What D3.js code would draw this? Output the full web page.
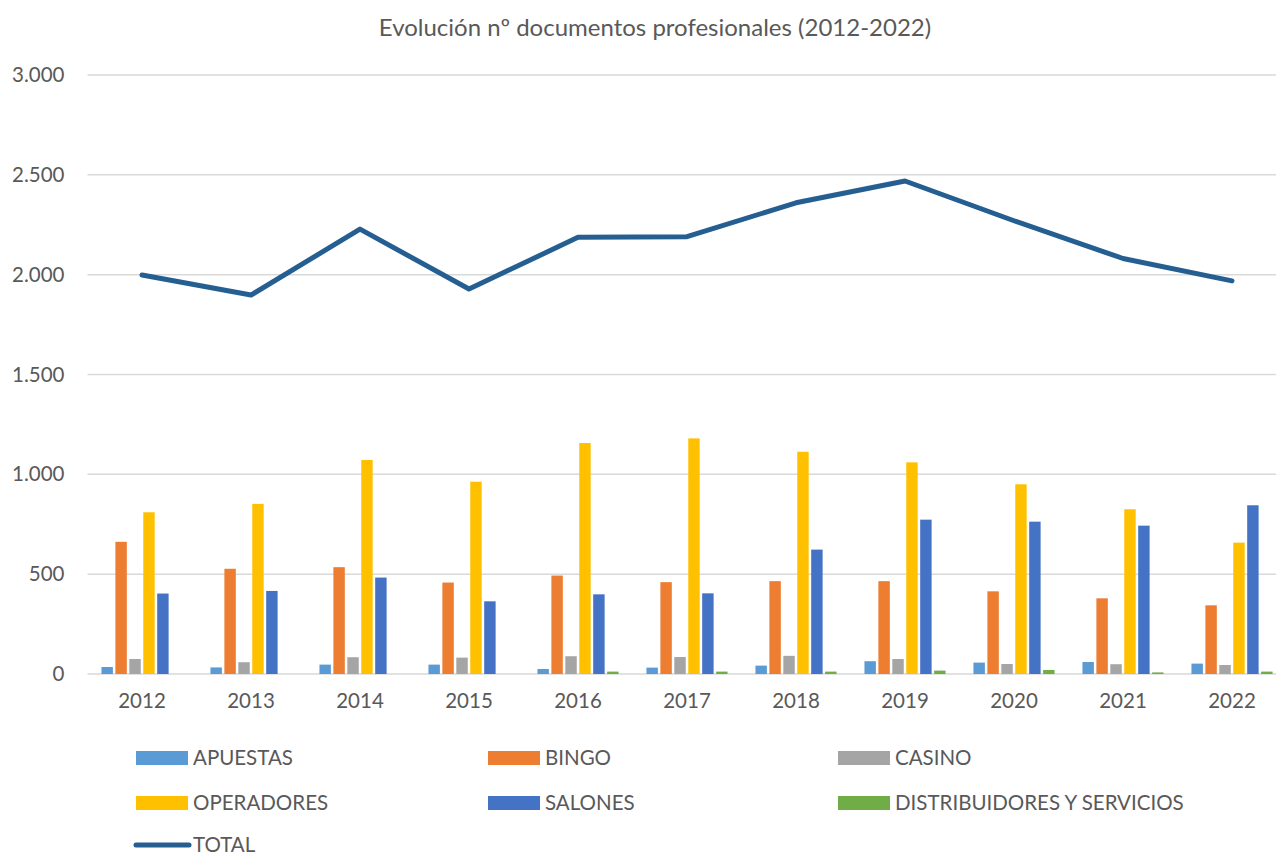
<!DOCTYPE html>
<html>
<head>
<meta charset="utf-8">
<script src="https://cdn.jsdelivr.net/npm/d3@7"></script>
<style>
  body { margin: 0; background: #fff; }
  svg text { font-family: Lato, "Open Sans", sans-serif; fill: #595959; }
</style>
</head>
<body>
<div id="viz"></div>
<script>
// data
const years = ["2012","2013","2014","2015","2016","2017","2018","2019","2020","2021","2022"]
const apuestas    = [35, 33, 47, 47, 25, 32, 42, 64, 57, 60, 52]
const bingo       = [662, 527, 535, 458, 493, 460, 465, 465, 414, 379, 344]
const casino      = [75, 59, 84, 82, 89, 85, 91, 75, 50, 49, 45]
const operadores  = [810, 852, 1072, 963, 1157, 1180, 1113, 1060, 950, 825, 658]
const salones     = [403, 416, 483, 364, 399, 404, 623, 773, 763, 743, 845]
const distribuidores = [0, 0, 0, 0, 12, 12, 12, 17, 20, 8, 12]
const total       = [1998, 1898, 2228, 1928, 2187, 2190, 2360, 2469, 2270, 2081, 1969]
const yTicks = [0, 500, 1000, 1500, 2000, 2500, 3000]

const barSeries = [
  { name: "APUESTAS", values: apuestas, color: "#5B9BD5" },
  { name: "BINGO", values: bingo, color: "#ED7D31" },
  { name: "CASINO", values: casino, color: "#A5A5A5" },
  { name: "OPERADORES", values: operadores, color: "#FFC000" },
  { name: "SALONES", values: salones, color: "#4472C4" },
  { name: "DISTRIBUIDORES Y SERVICIOS", values: distribuidores, color: "#70AD47" }
]
const totalColor = "#255E91"

const width = 1276, height = 855
const margin = { top: 75, left: 87.5 }
const plotW = 1199, plotH = 599

const svg = d3.select("#viz").append("svg")
    .attr("width", width)
    .attr("height", height)

// title
svg.append("text")
    .attr("x", 655)
    .attr("y", 36)
    .attr("text-anchor", "middle")
    .style("font-size", "24px")
    .text("Evolución nº documentos profesionales (2012-2022)")

const g = svg.append("g").attr("transform", `translate(${margin.left},${margin.top})`)

// scales
const x0 = d3.scaleBand().domain(years).range([0, plotW])
    .paddingInner(0.21).paddingOuter(0.105)
const x1 = d3.scaleBand().domain(barSeries.map(d => d.name))
    .range([0, x0.bandwidth()]).padding(0.18)
const xPoint = d3.scalePoint().domain(years).range([0, plotW]).padding(0.5)
const y = d3.scaleLinear().domain([0, 3000]).range([plotH, 0])

const fmt = v => d3.format(",")(v).replace(/,/g, ".")

// gridlines
g.append("g")
  .selectAll("line")
  .data(yTicks)
  .join("line")
    .attr("x1", 0)
    .attr("x2", plotW)
    .attr("y1", d => y(d))
    .attr("y2", d => y(d))
    .attr("stroke", "#D9D9D9")
    .attr("stroke-width", 1.5)

// y axis labels
const yAxis = g.append("g")
    .call(d3.axisLeft(y).tickValues(yTicks).tickFormat(fmt).tickSize(0).tickPadding(23))
yAxis.select(".domain").remove()
yAxis.selectAll("text").style("font-size", "20.5px").attr("fill", "#595959")

// x axis labels
const xAxis = g.append("g")
    .attr("transform", `translate(0,${plotH})`)
    .call(d3.axisBottom(x0).tickSize(0).tickPadding(19))
xAxis.select(".domain").remove()
xAxis.selectAll("text").style("font-size", "20.5px").attr("fill", "#595959")

// bars
const groups = g.append("g")
  .selectAll("g")
  .data(years)
  .join("g")
    .attr("transform", d => `translate(${x0(d)},0)`)

groups.selectAll("rect")
  .data((yr, i) => barSeries.map(s => ({ name: s.name, color: s.color, value: s.values[i] })))
  .join("rect")
    .attr("x", d => x1(d.name))
    .attr("width", x1.bandwidth())
    .attr("y", d => y(d.value))
    .attr("height", d => y(0) - y(d.value))
    .attr("fill", d => d.color)

// total line
const line = d3.line()
    .x((d, i) => xPoint(years[i]))
    .y(d => y(d))

g.append("path")
    .datum(total)
    .attr("d", line)
    .attr("fill", "none")
    .attr("stroke", totalColor)
    .attr("stroke-width", 5)
    .attr("stroke-linejoin", "round")
    .attr("stroke-linecap", "round")

// legend
const legendItems = barSeries.map(s => ({ name: s.name, color: s.color, type: "bar" }))
  .concat([{ name: "TOTAL", color: totalColor, type: "line" }])
const colX = [136, 488, 838], rowY = [758, 803, 845]

const legend = svg.append("g")
  .selectAll("g")
  .data(legendItems)
  .join("g")
    .attr("transform", (d, i) => `translate(${colX[i % 3]},${rowY[Math.floor(i / 3)]})`)

legend.filter(d => d.type === "bar").append("rect")
    .attr("x", 0)
    .attr("y", -7)
    .attr("width", 52)
    .attr("height", 14)
    .attr("fill", d => d.color)

legend.filter(d => d.type === "line").append("line")
    .attr("x1", 0)
    .attr("x2", 53)
    .attr("stroke", d => d.color)
    .attr("stroke-width", 5)
    .attr("stroke-linecap", "round")

legend.append("text")
    .attr("x", 57)
    .attr("y", 0)
    .attr("dy", "0.35em")
    .style("font-size", "20.5px")
    .text(d => d.name)
</script>
</body>
</html>
